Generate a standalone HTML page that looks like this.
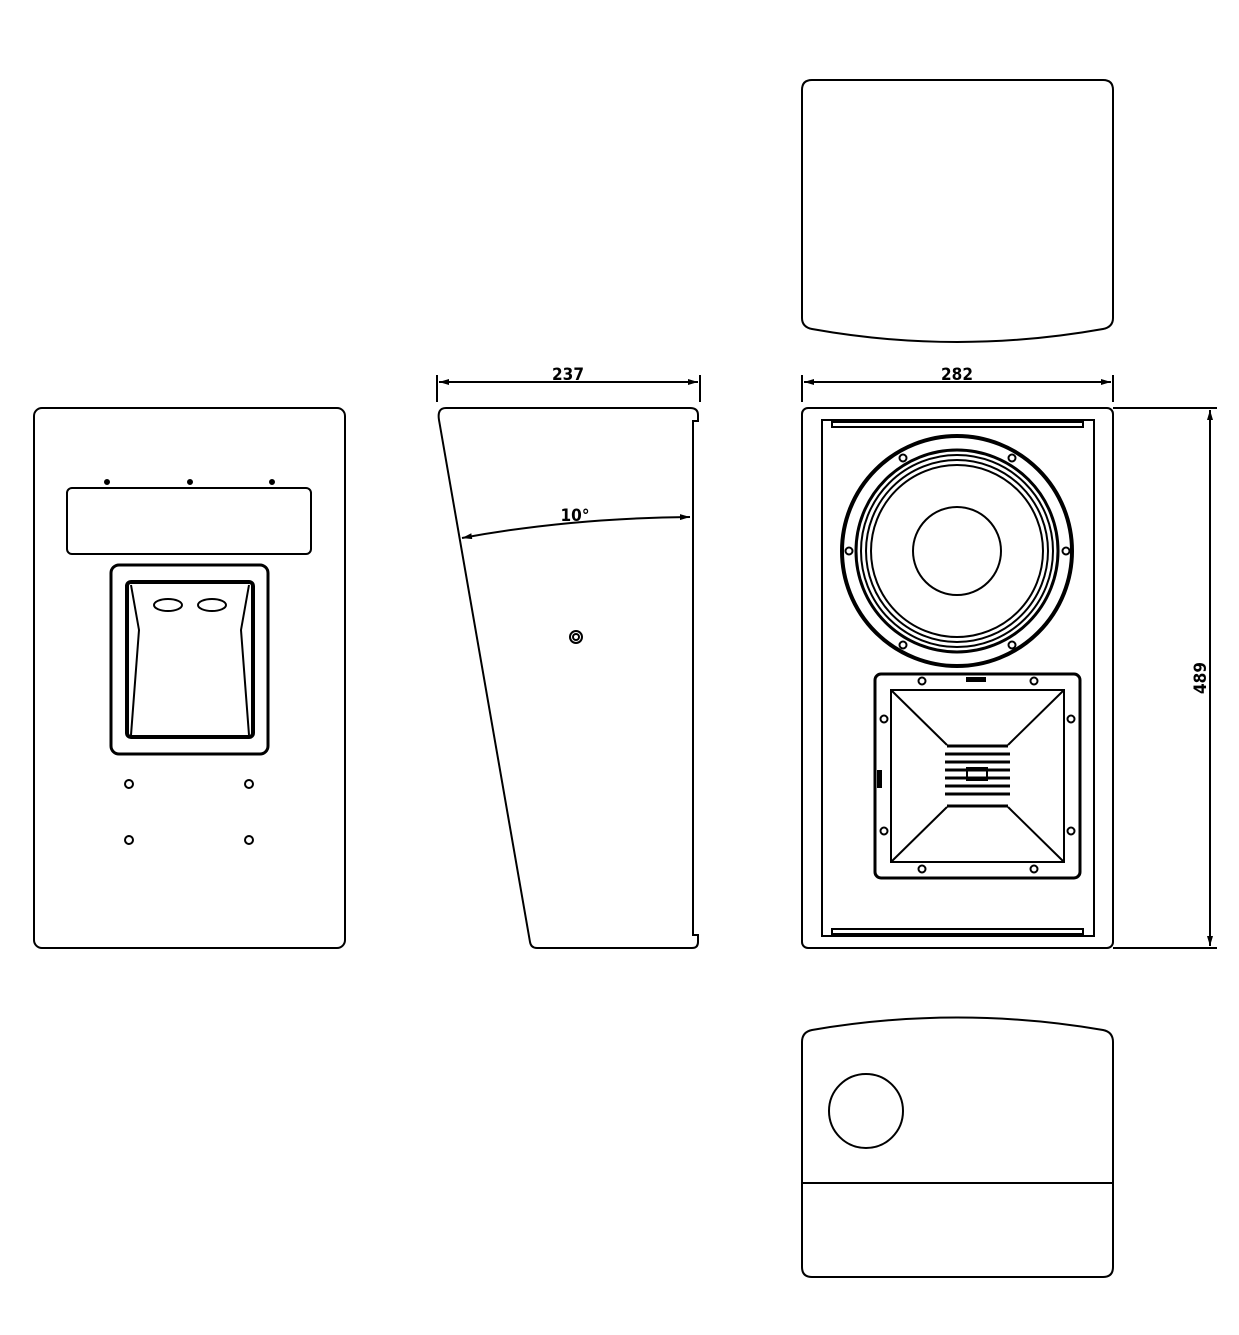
<!DOCTYPE html>
<html><head><meta charset="utf-8"><style>
html,body{margin:0;padding:0;background:#fff;}
svg{display:block;}
text{font-family:"DejaVu Sans Condensed","Liberation Sans",sans-serif;font-weight:bold;font-size:17px;fill:#000;}
</style></head><body>
<svg width="1239" height="1335" viewBox="0 0 1239 1335" xmlns="http://www.w3.org/2000/svg" fill="none" stroke="#000" stroke-width="2">
<defs>
<marker id="ar" viewBox="0 0 10 6" refX="10" refY="3" markerWidth="10" markerHeight="6" orient="auto-start-reverse" markerUnits="userSpaceOnUse"><path d="M0,0 L10,3 L0,6 Z" fill="#000" stroke="none"/></marker>
</defs>
<!-- LEFT REAR VIEW -->
<rect x="34" y="408" width="311" height="540" rx="8"/>
<rect x="67" y="488" width="244" height="66" rx="5"/>
<circle cx="107" cy="482" r="2" fill="#000"/><circle cx="190" cy="482" r="2" fill="#000"/><circle cx="272" cy="482" r="2" fill="#000"/>
<rect x="111" y="565" width="157" height="189" rx="8" stroke-width="3"/>
<rect x="127" y="582" width="126" height="155" rx="4" stroke-width="4"/>
<ellipse cx="168" cy="605" rx="14" ry="6"/><ellipse cx="212" cy="605" rx="14" ry="6"/>
<polyline points="131,585 139,630 131,735"/><polyline points="249,585 241,630 249,735"/>
<circle cx="129" cy="784" r="4"/><circle cx="249" cy="784" r="4"/><circle cx="129" cy="840" r="4"/><circle cx="249" cy="840" r="4"/>
<!-- SIDE VIEW -->
<line x1="437" y1="375" x2="437" y2="402"/><line x1="700" y1="375" x2="700" y2="402"/>
<line x1="439" y1="382" x2="698" y2="382" marker-start="url(#ar)" marker-end="url(#ar)"/>
<text x="568" y="380" text-anchor="middle" stroke="none">237</text>
<path d="M446,408 L690,408 Q698,408 698,415 L698,421 L693,421 L693,935 L698,935 L698,942 Q698,948 692,948 L537,948 Q531,948 530,942 L439,420 Q437,408 446,408 Z"/>
<path d="M462,538 Q570,518 690,517" marker-start="url(#ar)" marker-end="url(#ar)"/>
<text x="575" y="521" text-anchor="middle" stroke="none">10°</text>
<circle cx="576" cy="637" r="6"/><circle cx="576" cy="637" r="3"/>
<!-- FRONT VIEW -->
<line x1="802" y1="375" x2="802" y2="402"/><line x1="1113" y1="375" x2="1113" y2="402"/>
<line x1="804" y1="382" x2="1111" y2="382" marker-start="url(#ar)" marker-end="url(#ar)"/>
<text x="957" y="380" text-anchor="middle" stroke="none">282</text>
<line x1="1113" y1="408" x2="1217" y2="408"/><line x1="1113" y1="948" x2="1217" y2="948"/>
<line x1="1210" y1="410" x2="1210" y2="946" marker-start="url(#ar)" marker-end="url(#ar)"/>
<text x="1206" y="678" text-anchor="middle" stroke="none" transform="rotate(-90 1206 678)">489</text>
<rect x="802" y="408" width="311" height="540" rx="6"/>
<rect x="822" y="420" width="272" height="516"/>
<rect x="832" y="422" width="251" height="5"/>
<rect x="832" y="929" width="251" height="5"/>
<circle cx="957" cy="551" r="115" stroke-width="4"/>
<circle cx="957" cy="551" r="101" stroke-width="3"/>
<circle cx="957" cy="551" r="96"/>
<circle cx="957" cy="551" r="91"/>
<circle cx="957" cy="551" r="86"/>
<circle cx="957" cy="551" r="44"/>
<g stroke-width="2">
<circle cx="903" cy="458" r="3.5"/><circle cx="1012" cy="458" r="3.5"/><circle cx="849" cy="551" r="3.5"/><circle cx="1066" cy="551" r="3.5"/><circle cx="903" cy="645" r="3.5"/><circle cx="1012" cy="645" r="3.5"/>
</g>
<rect x="875" y="674" width="205" height="204" rx="6" stroke-width="3"/>
<rect x="891" y="690" width="173" height="172"/>
<line x1="891" y1="690" x2="947" y2="745"/><line x1="1064" y1="690" x2="1008" y2="745"/>
<line x1="891" y1="862" x2="947" y2="807"/><line x1="1064" y1="862" x2="1008" y2="807"/>
<g stroke-width="3">
<line x1="947" y1="746" x2="1008" y2="746"/><line x1="945" y1="754" x2="1010" y2="754"/><line x1="945" y1="762" x2="1010" y2="762"/><line x1="945" y1="770" x2="1010" y2="770"/><line x1="945" y1="778" x2="1010" y2="778"/><line x1="945" y1="786" x2="1010" y2="786"/><line x1="945" y1="794" x2="1010" y2="794"/><line x1="947" y1="806" x2="1008" y2="806"/>
</g>
<rect x="967" y="768" width="20" height="12"/>
<g stroke-width="2">
<circle cx="922" cy="681" r="3.5"/><circle cx="1034" cy="681" r="3.5"/><circle cx="884" cy="719" r="3.5"/><circle cx="1071" cy="719" r="3.5"/><circle cx="884" cy="831" r="3.5"/><circle cx="1071" cy="831" r="3.5"/><circle cx="922" cy="869" r="3.5"/><circle cx="1034" cy="869" r="3.5"/>
</g>
<rect x="966" y="677" width="20" height="5" fill="#000" stroke="none"/>
<rect x="877" y="770" width="5" height="18" fill="#000" stroke="none"/>
<!-- TOP VIEW -->
<path d="M812,80 L1103,80 Q1113,80 1113,90 L1113,318 Q1113,327 1103,329 Q957,355 812,329 Q802,327 802,318 L802,90 Q802,80 812,80 Z"/>
<!-- BOTTOM VIEW -->
<path d="M812,1030 Q957,1005 1103,1030 Q1113,1032 1113,1042 L1113,1267 Q1113,1277 1103,1277 L812,1277 Q802,1277 802,1267 L802,1042 Q802,1032 812,1030 Z"/>
<line x1="802" y1="1183" x2="1113" y2="1183"/>
<circle cx="866" cy="1111" r="37"/>
</svg>
</body></html>
